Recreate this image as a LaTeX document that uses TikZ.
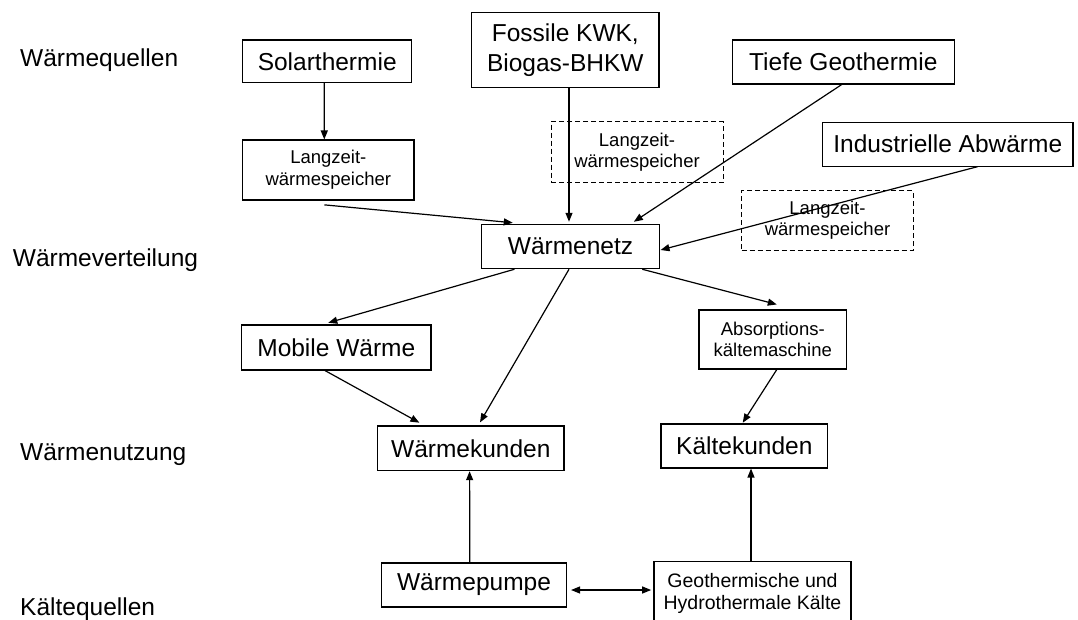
\documentclass[tikz,border=0pt]{standalone}
\usepackage{fontspec}
\setmainfont{Liberation Sans}
\usetikzlibrary{arrows.meta,calc}
\begin{document}
\begin{tikzpicture}[x=1pt,y=-1pt,
  box/.style={draw=black, line width=1.1pt, inner sep=0pt, align=center, font=\fontsize{24.5}{30}\selectfont},
  small/.style={font=\fontsize{18.5}{21.7}\selectfont},
  mid/.style={font=\fontsize{19.5}{22.4}\selectfont},
  dashbox/.style={box, dash pattern=on 5pt off 3pt, line width=0.9pt},
  conn/.style={line width=1.2pt, -{Triangle[length=9pt,width=7pt]}},
  conntwo/.style={line width=1.2pt, {Triangle[length=9pt,width=7pt]}-{Triangle[length=9pt,width=7pt]}},
  lbl/.style={anchor=base west, inner sep=0pt, font=\fontsize{24.5}{30}\selectfont},
]
\useasboundingbox (0,0) rectangle (1078,619);
\clip (0,0) rectangle (1078,619);

% row labels
\node[lbl] (lq) at (20,66.7) {Wärmequellen};
\node[lbl] (lv) at (12.7,266.7) {Wärmeverteilung};
\node[lbl] (ln) at (20,460) {Wärmenutzung};
\node[lbl] (lk) at (20,615) {Kältequellen};

% boxes
\node[box, minimum width=169, minimum height=42.7] (solar) at (327.2,61.3) {Solarthermie};
\node[box, minimum width=187.3, minimum height=74.6] (fossil) at (565.3,50) {Fossile KWK,\\Biogas-BHKW};
\node[box, minimum width=222, minimum height=44] (tiefe) at (843.3,62) {Tiefe Geothermie};
\node[box, small, minimum width=171.3, minimum height=60] (lzs) at (328.3,170) {Langzeit-\\wärmespeicher};
\node[dashbox, small, minimum width=172, minimum height=61] (lza) at (637,152.2) {Langzeit-\\wärmespeicher};
\node[box, minimum width=250.3, minimum height=43.7] (indus) at (947.8,144.2) {Industrielle Abwärme};
\node[dashbox, small, minimum width=171.6, minimum height=59.3] (lzb) at (827.5,220.3) {Langzeit-\\wärmespeicher};
\node[box, minimum width=177.6, minimum height=44.4] (netz) at (570.5,246.5) {Wärmenetz};
\node[box, minimum width=189.3, minimum height=45] (mobile) at (336.3,347.5) {Mobile Wärme};
\node[box, small, minimum width=147.7, minimum height=59] (absorp) at (772.8,339.5) {Absorptions-\\kältemaschine};
\node[box, minimum width=186.3, minimum height=44.7] (wkunden) at (470.8,448.3) {Wärmekunden};
\node[box, minimum width=166.7, minimum height=44] (kkunden) at (744.3,446) {Kältekunden};
\node[box, minimum width=184.6, minimum height=44] (wpumpe) at (474,585) {Wärmepumpe};
\node[box, mid, minimum width=197, minimum height=64] (geo) at (752.5,593.7) {Geothermische und\\Hydrothermale Kälte};

% connectors
\draw[conn] ([shift={(-3,0)}]solar.south) -- ([shift={(-4,0)}]lzs.north);
\draw[conn] ([shift={(-4,4.3)}]lzs.south) -- ([shift={(31.6,-1)}]netz.north west);
\draw[conn] ([shift={(3.7,0)}]fossil.south) -- ([shift={(-1.5,-2)}]netz.north);
\draw[conn] ([shift={(-1.6,0)}]tiefe.south) -- ([shift={(-26,-2)}]netz.north east);
\draw[conn] ([shift={(30,0)}]indus.south) -- ([shift={(0.7,3.5)}]netz.east);
\draw[conn] ([shift={(33.3,0)}]netz.south west) -- ([shift={(-8,-1.7)}]mobile.north);
\draw[conn] ([shift={(-1.5,0)}]netz.south) -- ([shift={(9.2,-3)}]wkunden.north);
\draw[conn] ([shift={(-17.6,0)}]netz.south east) -- ([shift={(4,-5)}]absorp.north);
\draw[conn] ([shift={(-11.3,0)}]mobile.south) -- ([shift={(42.3,-2.7)}]wkunden.north west);
\draw[conn] ([shift={(4,0)}]absorp.south) -- ([shift={(-1.6,-0.7)}]kkunden.north);
\draw[conn] ([shift={(-4.2,0)}]wpumpe.north) -- ([shift={(-1.2,0)}]wkunden.south);
\draw[conn] ([shift={(-1.5,0)}]geo.north) -- ([shift={(6.7,0)}]kkunden.south);
\draw[conntwo] ([shift={(4.2,5)}]wpumpe.east) -- ([shift={(-2.3,-3.7)}]geo.west);
\end{tikzpicture}
\end{document}
